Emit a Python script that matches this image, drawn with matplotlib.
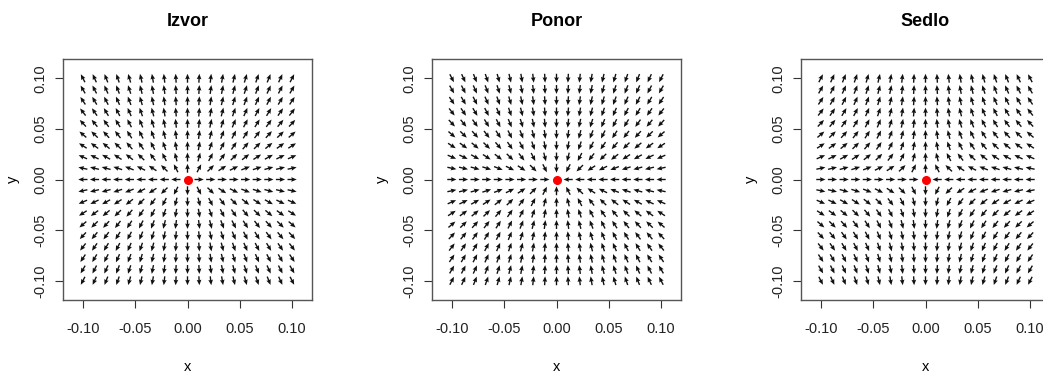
import numpy as np
import matplotlib
matplotlib.use('Agg')
import matplotlib.pyplot as plt

plt.rcParams['font.family'] = ['Liberation Sans Narrow', 'Liberation Sans', 'DejaVu Sans']

# grid of the phase portrait
grid = np.linspace(-0.1, 0.1, 19)
ticks = [-0.10, -0.05, 0.00, 0.05, 0.10]
tick_labels = ['-0.10', '-0.05', '0.00', '0.05', '0.10']

# linear systems: dx = a*x, dy = b*y
titles = ['Izvor', 'Ponor', 'Sedlo']
coef_a = [1, -1, -1]
coef_b = [2, -2, 2]

arrow_len = 0.0088  # data units

fig = plt.figure(figsize=(10.43, 3.73), dpi=100)
lefts = [63, 432, 801]

X, Y = np.meshgrid(grid, grid)
for k in range(3):
    ax = fig.add_axes([lefts[k] / 1043, 73 / 373, 249 / 1043, 241 / 373])
    U = coef_a[k] * X
    V = coef_b[k] * Y
    n = np.hypot(U, V)
    n[n == 0] = np.nan
    U = U / n * arrow_len
    V = V / n * arrow_len
    ax.quiver(X, Y, U, V, angles='xy', scale_units='xy', scale=1, pivot='middle',
              color='#111111', width=0.0055, headwidth=3.4, headlength=4.0,
              headaxislength=3.6)
    ax.plot([0], [0], 'o', color='red', markersize=5.5, zorder=3)
    ax.set_xlim(-0.119, 0.119)
    ax.set_ylim(-0.119, 0.119)
    ax.set_xticks(ticks)
    ax.set_xticklabels(tick_labels)
    ax.set_yticks(ticks)
    ax.set_yticklabels(tick_labels, rotation=90, va='center')
    ax.tick_params(direction='out', length=6, width=0.8, colors='#333333',
                   labelsize=10.5, labelcolor='#222222')
    ax.tick_params(axis='x', pad=10)
    ax.tick_params(axis='y', pad=5)
    for s in ax.spines.values():
        s.set_color('#555555')
        s.set_linewidth(1.0)
    ax.set_title(titles[k], fontsize=13, fontweight='bold', pad=24)
    ax.set_xlabel('x', fontsize=10.5, labelpad=17)
    ax.set_ylabel('y', fontsize=10.5, labelpad=10)

fig.savefig('out.png', dpi=100)
